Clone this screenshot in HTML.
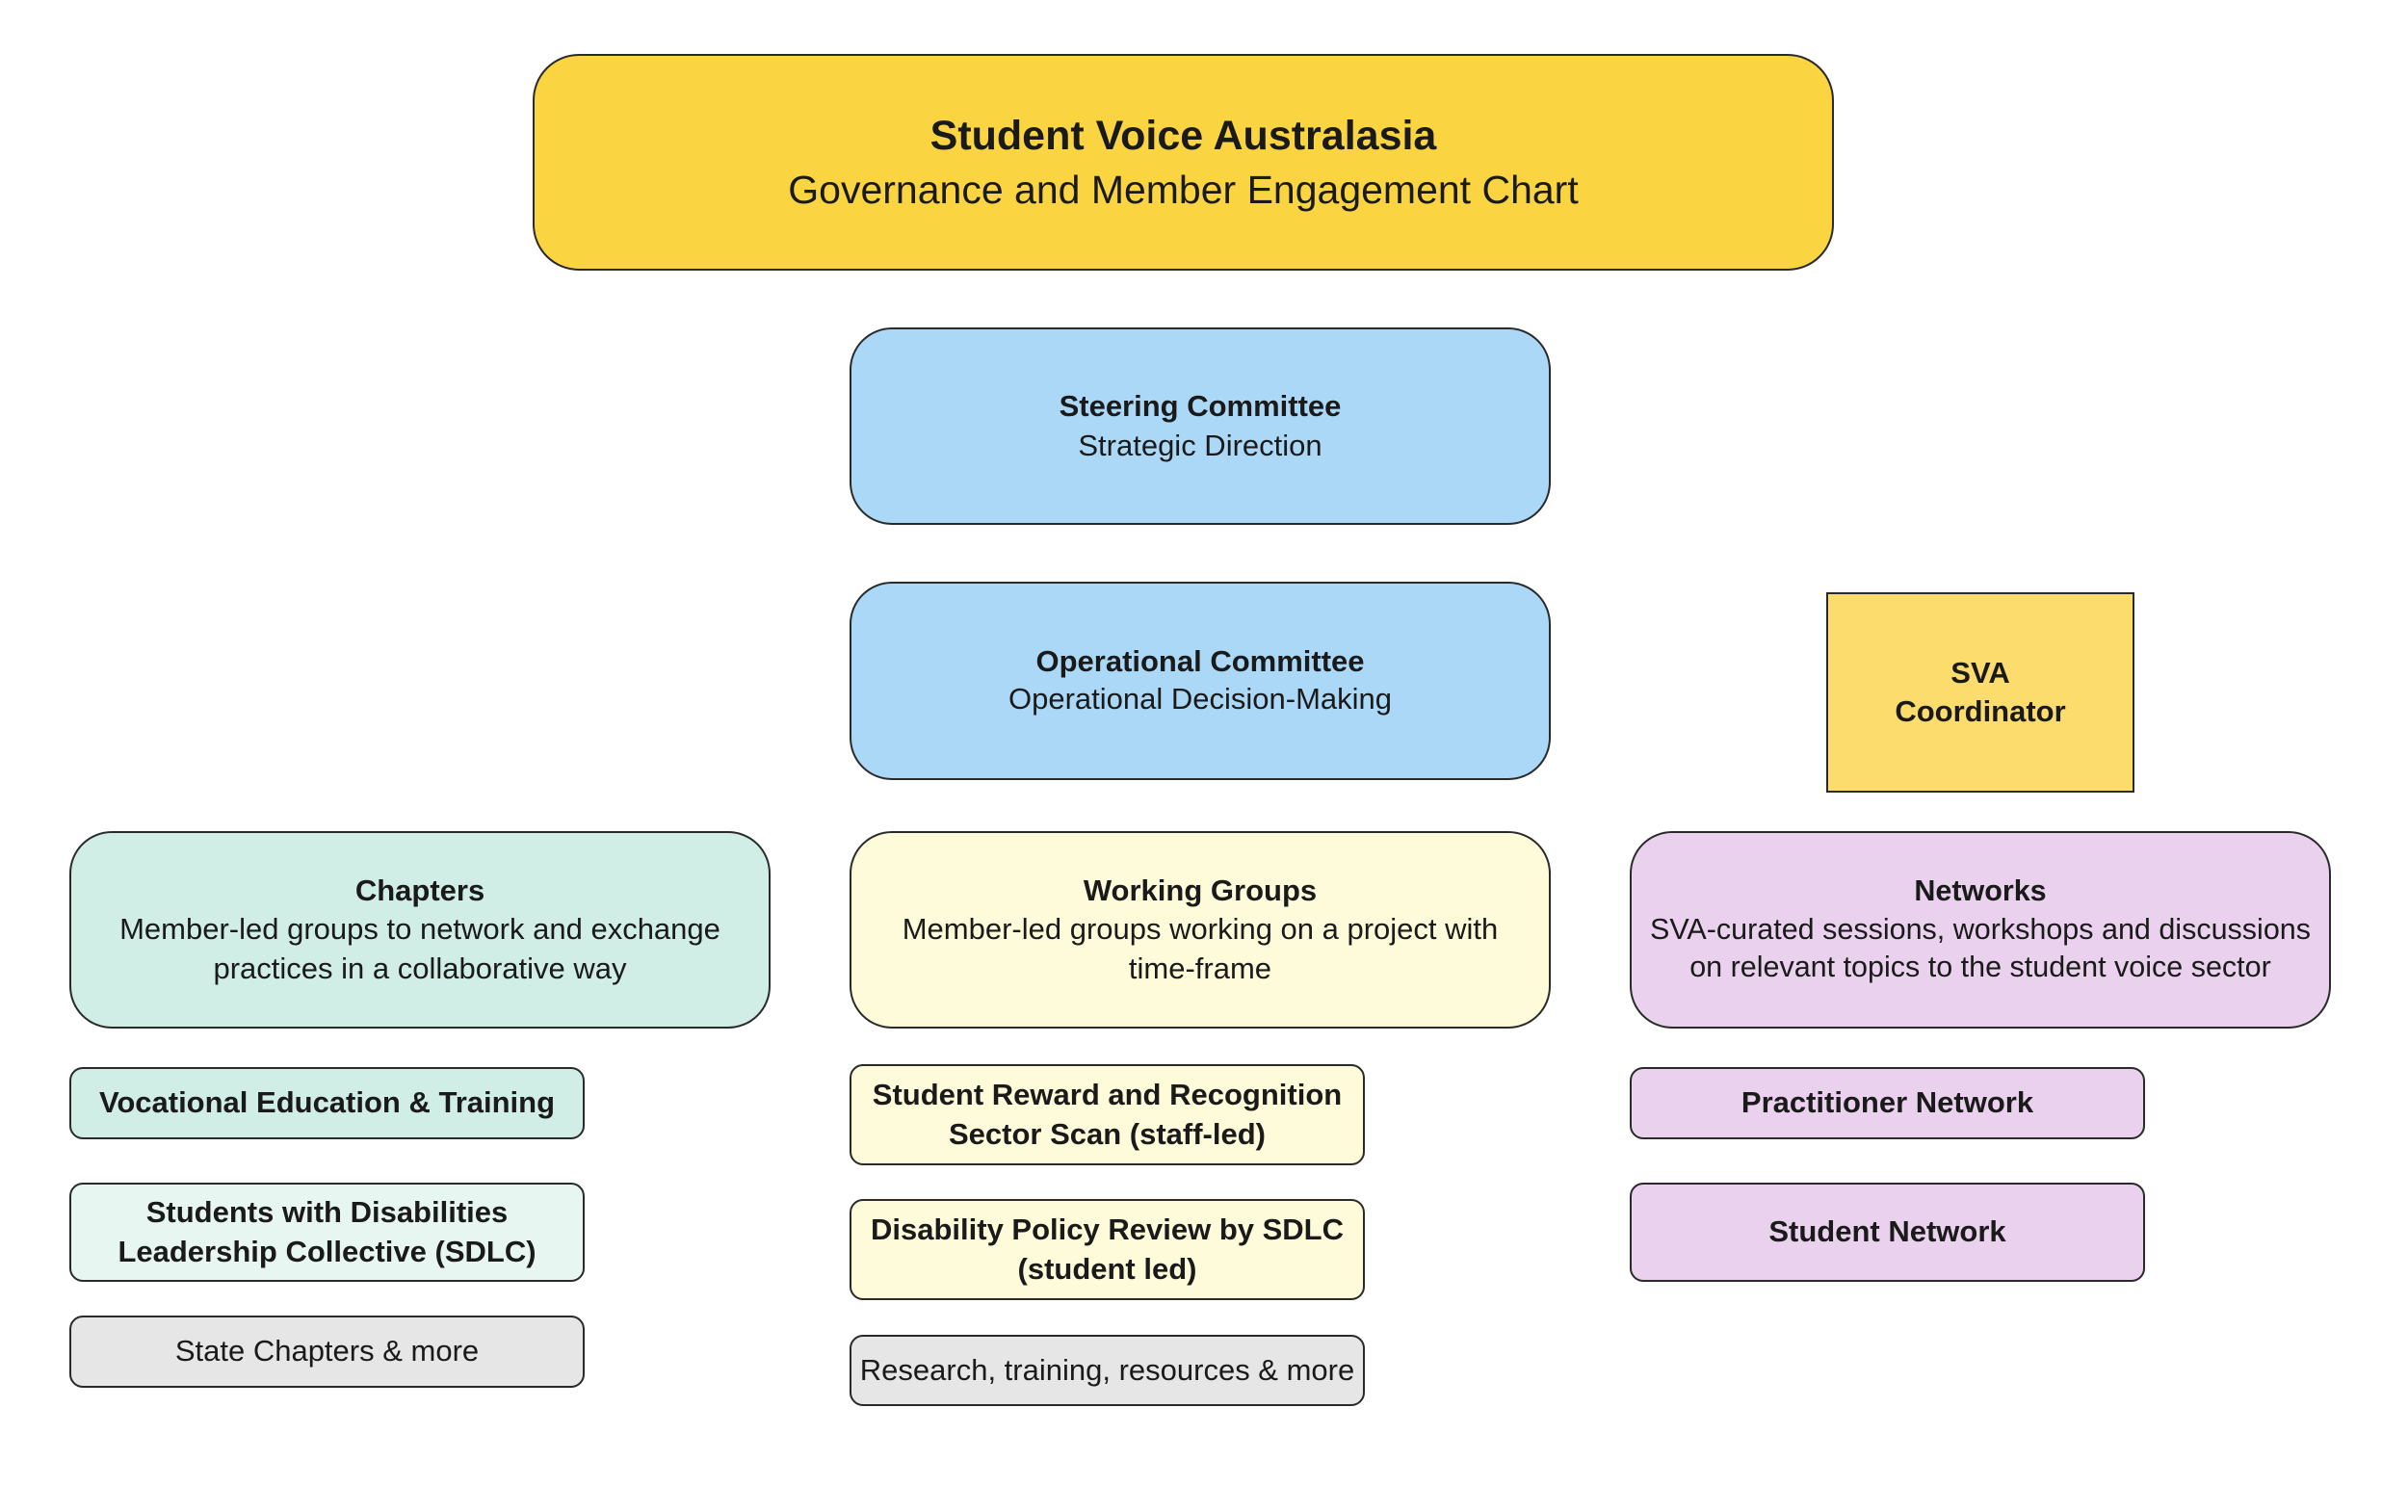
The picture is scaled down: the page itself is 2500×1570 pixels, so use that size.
<!DOCTYPE html>
<html><head><meta charset="utf-8"><style>
body{margin:0;width:2500px;height:1570px;background:#fff;position:relative;overflow:hidden;font-family:"Liberation Sans","DejaVu Sans",sans-serif;color:#1a1a1a}
.b{position:absolute;box-sizing:border-box;border:2px solid #2a2a2a;display:flex;flex-direction:column;align-items:center;justify-content:center;text-align:center;line-height:1.3}
.big{border-radius:44px;font-size:31px}
.sm{border-radius:14px;font-size:31px;font-weight:bold}
b{font-weight:bold}
</style></head><body>
<div class="b" style="left:553px;top:56px;width:1351px;height:225px;border-radius:48px;background:#fad541;font-size:41px;line-height:1.35"><b style="font-size:43px">Student Voice Australasia</b><span>Governance and Member Engagement Chart</span></div>

<div class="b big" style="left:882px;top:340px;width:728px;height:205px;background:#acd8f7"><b>Steering Committee</b><span>Strategic Direction</span></div>
<div class="b big" style="left:882px;top:604px;width:728px;height:206px;background:#acd8f7;line-height:1.25"><b>Operational Committee</b><span>Operational Decision-Making</span></div>
<div class="b" style="left:1896px;top:615px;width:320px;height:208px;background:#fcdc6c;font-size:31px;font-weight:bold;border-radius:0">SVA<br>Coordinator</div>

<div class="b big" style="left:72px;top:863px;width:728px;height:205px;background:#d0ede6"><b>Chapters</b><span>Member-led groups to network and exchange<br>practices in a collaborative way</span></div>
<div class="b big" style="left:882px;top:863px;width:728px;height:205px;background:#fdfbd9"><b>Working Groups</b><span>Member-led groups working on a project with<br>time-frame</span></div>
<div class="b big" style="left:1692px;top:863px;width:728px;height:205px;background:#ead1ee;font-size:30.5px"><b>Networks</b><span>SVA-curated sessions, workshops and discussions<br>on relevant topics to the student voice sector</span></div>

<div class="b sm" style="left:72px;top:1108px;width:535px;height:75px;background:#d0ede6">Vocational Education &amp; Training</div>
<div class="b sm" style="left:72px;top:1228px;width:535px;height:103px;background:#e8f6f2">Students with Disabilities<br>Leadership Collective (SDLC)</div>
<div class="b sm" style="left:72px;top:1366px;width:535px;height:75px;background:#e6e6e6;font-weight:normal">State Chapters &amp; more</div>

<div class="b sm" style="left:882px;top:1105px;width:535px;height:105px;background:#fdfbd9">Student Reward and Recognition<br>Sector Scan (staff-led)</div>
<div class="b sm" style="left:882px;top:1245px;width:535px;height:105px;background:#fdfbd9">Disability Policy Review by SDLC<br>(student led)</div>
<div class="b sm" style="left:882px;top:1386px;width:535px;height:74px;background:#e6e6e6;font-weight:normal">Research, training, resources &amp; more</div>

<div class="b sm" style="left:1692px;top:1108px;width:535px;height:75px;background:#ead1ee">Practitioner Network</div>
<div class="b sm" style="left:1692px;top:1228px;width:535px;height:103px;background:#ead1ee">Student Network</div>
</body></html>
